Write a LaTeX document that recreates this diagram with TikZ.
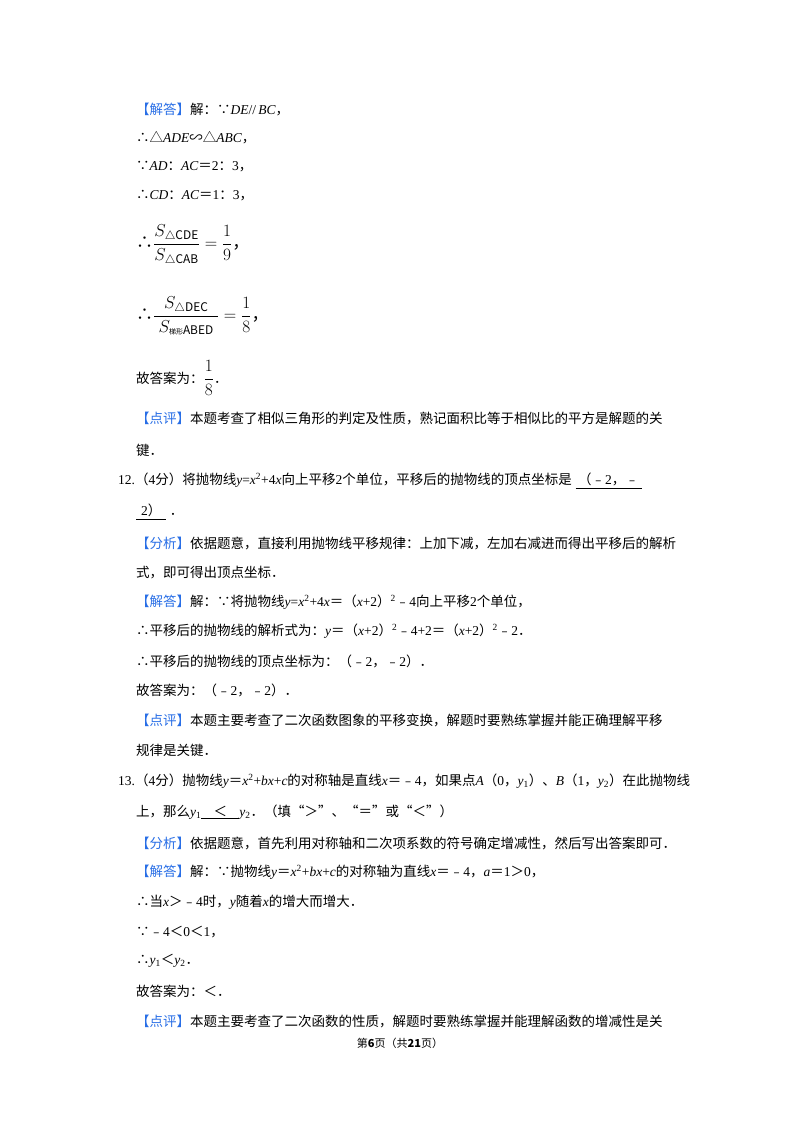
\documentclass[tikz,border=0pt]{standalone}
\usepackage{amsmath}
\usepackage{fontspec}
\setmainfont{Noto Sans CJK SC}
\newfontfamily\tms{Liberation Serif}
\usetikzlibrary{positioning}
\definecolor{tagblue}{RGB}{40,110,230}
\newcommand{\tm}[1]{{\tms #1}}
\newcommand{\iv}[1]{{\tms\itshape #1}}
\newcommand{\hdtag}[1]{\textcolor{tagblue}{【#1】}}
\newcommand{\ans}[2]{\underline{\makebox[#1][c]{#2}}}
\begin{document}
\begin{tikzpicture}[x=1pt,y=-1pt,
  ln/.style={anchor=west,inner sep=0pt,font=\fontsize{13.5}{15}\selectfont},
  frac/.style={ln,font=\fontsize{17}{19}\selectfont},
  foot/.style={inner sep=0pt,font=\fontsize{11}{13}\selectfont}]
\useasboundingbox[fill=white] (0,0) rectangle (800,1132);
% question 11, solution
\node[ln] (s1) at (136,110) {\hdtag{解答}解：∵\iv{DE}\tm{//}\,\iv{BC}，};
\node[ln] (s2) at (136,138) {∴△\iv{ADE}∽△\iv{ABC}，};
\node[ln] (s3) at (136,167) {∵\iv{AD}：\iv{AC}＝\tm{2}：\tm{3}，};
\node[ln] (s4) at (136,196) {∴\iv{CD}：\iv{AC}＝\tm{1}：\tm{3}，};
\node[frac] (s5) at (136,245) {∴$\dfrac{S_{\triangle\mathrm{CDE}}}{S_{\triangle\mathrm{CAB}}}=\dfrac{1}{9}$，};
\node[frac] (s6) at (136,316) {∴$\dfrac{\;\;S_{\triangle\mathrm{DEC}}\;\;}{S_{\mbox{\scriptsize 梯形}\mathrm{ABED}}}=\dfrac{1}{8}$，};
\node[ln] (s7) at (136,378) {故答案为：{\fontsize{17}{19}\selectfont$\dfrac{1}{8}$}．};
\node[ln] (s8) at (136,419) {\hdtag{点评}本题考查了相似三角形的判定及性质，熟记面积比等于相似比的平方是解题的关};
\node[ln] (s9) at (136,450) {键．};
% question 12
\node[ln] (q12a) at (118,481) {\tm{12.}（\tm{4}分）将抛物线\iv{y}\tm{=}\iv{x}\textsuperscript{\tm{2}}\tm{+4}\iv{x}向上平移\tm{2}个单位，平移后的抛物线的顶点坐标是\;\ans{66pt}{（﹣\tm{2}，﹣}};
\node[ln] (q12b) at (136,512) {\ans{30pt}{\tm{2}）}\;．};
\node[ln] (f12) at (136,543) {\hdtag{分析}依据题意，直接利用抛物线平移规律：上加下减，左加右减进而得出平移后的解析};
\node[ln] (f12b) at (136,573) {式，即可得出顶点坐标．};
\node[ln] (j12a) at (136,602) {\hdtag{解答}解：∵将抛物线\iv{y}\tm{=}\iv{x}\textsuperscript{\tm{2}}\tm{+4}\iv{x}＝（\iv{x}\tm{+2}）\textsuperscript{\tm{2}}﹣\tm{4}向上平移\tm{2}个单位，};
\node[ln] (j12b) at (136,631) {∴平移后的抛物线的解析式为：\iv{y}＝（\iv{x}\tm{+2}）\textsuperscript{\tm{2}}﹣\tm{4+2}＝（\iv{x}\tm{+2}）\textsuperscript{\tm{2}}﹣\tm{2}．};
\node[ln] (j12c) at (136,661) {∴平移后的抛物线的顶点坐标为：（﹣\tm{2}，﹣\tm{2}）．};
\node[ln] (j12d) at (136,690) {故答案为：（﹣\tm{2}，﹣\tm{2}）．};
\node[ln] (d12a) at (136,720) {\hdtag{点评}本题主要考查了二次函数图象的平移变换，解题时要熟练掌握并能正确理解平移};
\node[ln] (d12b) at (136,750) {规律是关键．};
% question 13
\node[ln] (q13a) at (118,781) {\tm{13.}（\tm{4}分）抛物线\iv{y}＝\iv{x}\textsuperscript{\tm{2}}\tm{+}\iv{bx}\tm{+}\iv{c}的对称轴是直线\iv{x}＝﹣\tm{4}，如果点\iv{A}（\tm{0}，\iv{y}\textsubscript{\tm{1}}）、\iv{B}（\tm{1}，\iv{y}\textsubscript{\tm{2}}）在此抛物线};
\node[ln] (q13b) at (136,812) {上，那么\iv{y}\textsubscript{\tm{1}}\ans{38pt}{＜}\iv{y}\textsubscript{\tm{2}}．（填“＞”、“＝”或“＜”）};
\node[ln] (f13) at (136,843) {\hdtag{分析}依据题意，首先利用对称轴和二次项系数的符号确定增减性，然后写出答案即可．};
\node[ln] (j13a) at (136,872) {\hdtag{解答}解：∵抛物线\iv{y}＝\iv{x}\textsuperscript{\tm{2}}\tm{+}\iv{bx}\tm{+}\iv{c}的对称轴为直线\iv{x}＝﹣\tm{4}，\iv{a}＝\tm{1}＞\tm{0}，};
\node[ln] (j13b) at (136,902) {∴当\iv{x}＞﹣\tm{4}时，\iv{y}随着\iv{x}的增大而增大．};
\node[ln] (j13c) at (136,932) {∵﹣\tm{4}＜\tm{0}＜\tm{1}，};
\node[ln] (j13d) at (136,961) {∴\iv{y}\textsubscript{\tm{1}}＜\iv{y}\textsubscript{\tm{2}}．};
\node[ln] (j13e) at (136,991) {故答案为：＜．};
\node[ln] (d13) at (136,1021) {\hdtag{点评}本题主要考查了二次函数的性质，解题时要熟练掌握并能理解函数的增减性是关};
% footer
\node[foot] (pg) at (400,1043) {第\textbf{6}页（共\textbf{21}页）};
\end{tikzpicture}
\end{document}
